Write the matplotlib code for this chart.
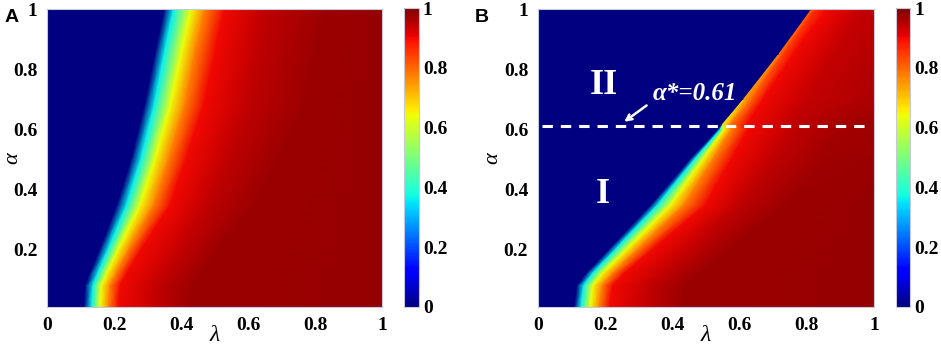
import matplotlib
matplotlib.use("Agg")
import matplotlib.pyplot as plt
import numpy as np

# rows of alpha, and for each row the lambda where the colour reaches each level
alpha_a = [0.01, 0.08, 0.12, 0.2, 0.35, 0.5, 0.68, 0.85, 1.0]
lam_a = [
    [0, 0.110, 0.133, 0.158, 0.183, 0.213, 0.33, 0.43, 1],
    [0, 0.114, 0.137, 0.162, 0.187, 0.218, 0.335, 0.435, 1],
    [0, 0.127, 0.151, 0.178, 0.205, 0.237, 0.36, 0.46, 1],
    [0, 0.157, 0.182, 0.212, 0.243, 0.28, 0.41, 0.51, 1],
    [0, 0.209, 0.238, 0.278, 0.318, 0.368, 0.48, 0.62, 1],
    [0, 0.251, 0.28, 0.322, 0.362, 0.415, 0.54, 0.69, 1],
    [0, 0.291, 0.32, 0.368, 0.41, 0.468, 0.6, 0.77, 1],
    [0, 0.322, 0.35, 0.40, 0.44, 0.50, 0.63, 0.80, 1],
    [0, 0.350, 0.378, 0.43, 0.47, 0.53, 0.65, 0.83, 1],
]
levels_a = [0, 0, 0.36, 0.64, 0.77, 0.9, 0.945, 0.975, 0.98]

alpha_b = [0.01, 0.08, 0.12, 0.2, 0.35, 0.5, 0.6, 0.615, 0.7, 0.85, 1.0]
lam_b = [
    [0, 0.108, 0.128, 0.156, 0.182, 0.213, 0.33, 0.43, 1],
    [0, 0.116, 0.136, 0.163, 0.19, 0.222, 0.34, 0.44, 1],
    [0, 0.142, 0.162, 0.19, 0.22, 0.255, 0.38, 0.48, 1],
    [0, 0.21, 0.23, 0.262, 0.295, 0.34, 0.46, 0.57, 1],
    [0, 0.337, 0.357, 0.395, 0.435, 0.5, 0.6, 0.74, 1],
    [0, 0.452, 0.466, 0.49, 0.52, 0.575, 0.7, 0.85, 1],
    [0, 0.535, 0.543, 0.553, 0.575, 0.625, 0.76, 0.9, 1],
    [0, 0.546, 0.549, 0.552, 0.57, 0.62, 0.76, 0.9, 1],
    [0, 0.61, 0.613, 0.616, 0.635, 0.67, 0.8, 0.95, 1],
    [0, 0.715, 0.718, 0.721, 0.73, 0.76, 0.88, 0.99, 1],
    [0, 0.813, 0.816, 0.819, 0.826, 0.86, 0.95, 0.995, 1],
]
val_b = [
    [0, 0, 0.36, 0.64, 0.77, 0.9, 0.945, 0.975, 0.98],
    [0, 0, 0.36, 0.64, 0.77, 0.9, 0.945, 0.975, 0.98],
    [0, 0, 0.36, 0.64, 0.77, 0.9, 0.945, 0.975, 0.98],
    [0, 0, 0.36, 0.64, 0.77, 0.9, 0.945, 0.975, 0.98],
    [0, 0, 0.36, 0.64, 0.77, 0.9, 0.945, 0.975, 0.98],
    [0, 0, 0.36, 0.64, 0.77, 0.9, 0.945, 0.97, 0.975],
    [0, 0, 0.36, 0.64, 0.77, 0.9, 0.945, 0.965, 0.97],
    [0, 0, 0.6, 0.66, 0.77, 0.9, 0.945, 0.965, 0.97],
    [0, 0, 0.7, 0.74, 0.8, 0.9, 0.94, 0.955, 0.96],
    [0, 0, 0.78, 0.8, 0.84, 0.9, 0.94, 0.95, 0.955],
    [0, 0, 0.82, 0.83, 0.86, 0.9, 0.935, 0.945, 0.95],
]

alpha_star = 0.61
ticks = [0, 0.2, 0.4, 0.6, 0.8, 1]
tick_labels = ["0", "0.2", "0.4", "0.6", "0.8", "1"]
ytick_vals = [0.2, 0.4, 0.6, 0.8, 1]
ytick_labels = ["0.2", "0.4", "0.6", "0.8", "1"]

SERIF = "Liberation Serif"
edge_col = "#c8c8dc"

fig = plt.figure(figsize=(9.41, 3.48), dpi=100)


def draw_panel(ax_rect, cax_rect, alphas, lams, vals, letter, letter_x, ylab_x):
    ax = fig.add_axes(ax_rect)
    cax = fig.add_axes(cax_rect)
    X = np.array(lams, dtype=float)
    Y = np.repeat(np.array(alphas)[:, None], X.shape[1], axis=1)
    C = np.array(vals, dtype=float)
    m = ax.pcolormesh(X, Y, C, cmap="jet", vmin=0, vmax=1, shading="gouraud")
    ax.set_xlim(0, 1)
    ax.set_ylim(0.01, 1)
    ax.set_xticks(ticks)
    ax.set_xticklabels(tick_labels, fontfamily=SERIF, fontweight="bold", fontsize=14)
    ax.set_yticks(ytick_vals)
    ax.set_yticklabels(ytick_labels, fontfamily=SERIF, fontweight="bold", fontsize=14)
    ax.tick_params(length=0, pad=7)
    for s in ax.spines.values():
        s.set_color(edge_col)
        s.set_linewidth(0.8)
    ax.set_xlabel("λ", fontfamily=SERIF, fontstyle="italic", fontsize=17, labelpad=-6)
    ax.set_ylabel("α", fontfamily=SERIF, fontstyle="italic", fontsize=16)
    ax.yaxis.set_label_coords(ylab_x, 0.5)

    cb = fig.colorbar(m, cax=cax, ticks=ticks)
    cb.ax.set_yticklabels(tick_labels, fontfamily=SERIF, fontweight="bold", fontsize=14)
    cb.ax.tick_params(length=0, pad=3)
    cb.outline.set_edgecolor(edge_col)
    cb.outline.set_linewidth(0.8)

    fig.text(letter_x, 0.975, letter, fontfamily="Liberation Sans", fontweight="bold",
             fontsize=14, va="top", ha="left")
    return ax


ax_a = draw_panel([0.050, 0.118, 0.356, 0.856], [0.429, 0.118, 0.016, 0.859],
                  alpha_a, lam_a, [levels_a] * len(alpha_a), "A", 0.005, -0.075)
ax_b = draw_panel([0.5717, 0.118, 0.357, 0.856], [0.952, 0.118, 0.0155, 0.859],
                  alpha_b, lam_b, val_b, "B", 0.505, -0.105)

# annotations in panel B
ax_b.plot([0.012, 0.975], [alpha_star, alpha_star], color="white", lw=2.2,
          dashes=(3.4, 2.6))
ax_b.annotate("", xy=(0.25, 0.62), xytext=(0.33, 0.685),
              arrowprops=dict(arrowstyle="->", color="white", lw=1.8))
ax_b.text(0.34, 0.72, "α*=0.61", color="white", fontfamily=SERIF, fontweight="bold",
          fontstyle="italic", fontsize=18, va="center", ha="left")
ax_b.text(0.195, 0.745, "II", color="white", fontfamily=SERIF, fontweight="bold",
          fontsize=26, va="center", ha="center")
ax_b.text(0.193, 0.385, "I", color="white", fontfamily=SERIF, fontweight="bold",
          fontsize=26, va="center", ha="center")

fig.savefig("out.png", dpi=100)
